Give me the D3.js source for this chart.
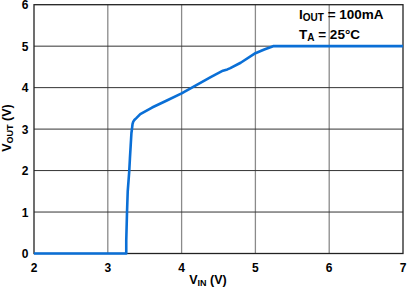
<!DOCTYPE html>
<html>
<head>
<meta charset="utf-8">
<script src="https://cdn.jsdelivr.net/npm/d3@7"></script>
<style>
  html, body { margin: 0; padding: 0; background: #fff; }
  svg { display: block; font-family: "Liberation Sans", Arial, sans-serif; font-weight: bold; }
</style>
</head>
<body>
<div id="chart"></div>
<script>
// values
const vin  = [2.0, 3.25, 3.25, 3.26, 3.27, 3.29, 3.30, 3.31, 3.32, 3.33, 3.335, 3.345, 3.36, 3.39, 3.44, 3.6, 3.8, 4.0, 4.2, 4.4, 4.56, 4.62, 4.66, 4.8, 5.0, 5.12, 5.24, 7.0];
const vout = [0, 0, 0.3, 0.97, 1.5, 1.97, 2.3, 2.6, 2.9, 3.04, 3.12, 3.18, 3.22, 3.27, 3.36, 3.52, 3.69, 3.86, 4.06, 4.26, 4.41, 4.44, 4.47, 4.6, 4.83, 4.92, 5.0, 5.0];
const xTicks = [2, 3, 4, 5, 6, 7];
const yTicks = [0, 1, 2, 3, 4, 5, 6];

const width = 407, height = 293;
const margin = { top: 4.7, right: 4, bottom: 39.5, left: 34 };

const svg = d3.select('#chart')
  .append('svg')
  .attr('width', width)
  .attr('height', height);

const x = d3.scaleLinear().domain([2, 7]).range([margin.left, width - margin.right]);
const y = d3.scaleLinear().domain([0, 6]).range([height - margin.bottom, margin.top]);

// grid
svg.append('g')
  .selectAll('line')
  .data(xTicks.slice(1, -1))
  .join('line')
  .attr('x1', d => x(d)).attr('x2', d => x(d))
  .attr('y1', y(0)).attr('y2', y(6))
  .attr('stroke', '#8a8a8a')
  .attr('stroke-width', 1.3);

svg.append('g')
  .selectAll('line')
  .data(yTicks.slice(1, -1))
  .join('line')
  .attr('x1', x(2)).attr('x2', x(7))
  .attr('y1', d => y(d)).attr('y2', d => y(d))
  .attr('stroke', '#333')
  .attr('stroke-width', 1);

// frame
svg.append('rect')
  .attr('x', x(2)).attr('y', y(6))
  .attr('width', x(7) - x(2)).attr('height', y(0) - y(6))
  .attr('fill', 'none')
  .attr('stroke', '#222')
  .attr('stroke-width', 1.3);

// tick labels
svg.append('g')
  .selectAll('text')
  .data(xTicks)
  .join('text')
  .attr('x', d => x(d))
  .attr('y', 271.5)
  .attr('text-anchor', 'middle')
  .attr('font-size', 12)
  .text(d => d);

svg.append('g')
  .selectAll('text')
  .data(yTicks)
  .join('text')
  .attr('x', 28.5)
  .attr('y', d => y(d) + 4.5)
  .attr('text-anchor', 'end')
  .attr('font-size', 12)
  .text(d => d);

// axis titles
const xt = svg.append('text')
  .attr('x', 208)
  .attr('y', 284)
  .attr('text-anchor', 'middle')
  .attr('font-size', 12.5);
xt.append('tspan').text('V');
xt.append('tspan').attr('font-size', 9).attr('dy', 2).text('IN');
xt.append('tspan').attr('dy', -2).text(' (V)');

const yt = svg.append('text')
  .attr('transform', `translate(10.5,128) rotate(-90)`)
  .attr('text-anchor', 'middle')
  .attr('font-size', 12.5);
yt.append('tspan').text('V');
yt.append('tspan').attr('font-size', 9).attr('dy', 2).text('OUT');
yt.append('tspan').attr('dy', -2).text(' (V)');

// curve
const pts = vin.map((v, i) => [v, vout[i]]);
svg.append('path')
  .datum(pts)
  .attr('fill', 'none')
  .attr('stroke', '#0a6fd6')
  .attr('stroke-width', 2.6)
  .attr('stroke-linejoin', 'round')
  .attr('d', d3.line().x(d => x(d[0])).y(d => y(d[1])));

// annotation
const a1 = svg.append('text')
  .attr('x', 299).attr('y', 18.5)
  .attr('font-size', 13.5);
a1.append('tspan').text('I');
a1.append('tspan').attr('font-size', 10).attr('dy', 2).text('OUT');
a1.append('tspan').attr('dy', -2).text(' = 100mA');

const a2 = svg.append('text')
  .attr('x', 299).attr('y', 38.5)
  .attr('font-size', 13.5);
a2.append('tspan').text('T');
a2.append('tspan').attr('font-size', 10).attr('dy', 2).text('A');
a2.append('tspan').attr('dy', -2).text(' = 25°C');
</script>
</body>
</html>
